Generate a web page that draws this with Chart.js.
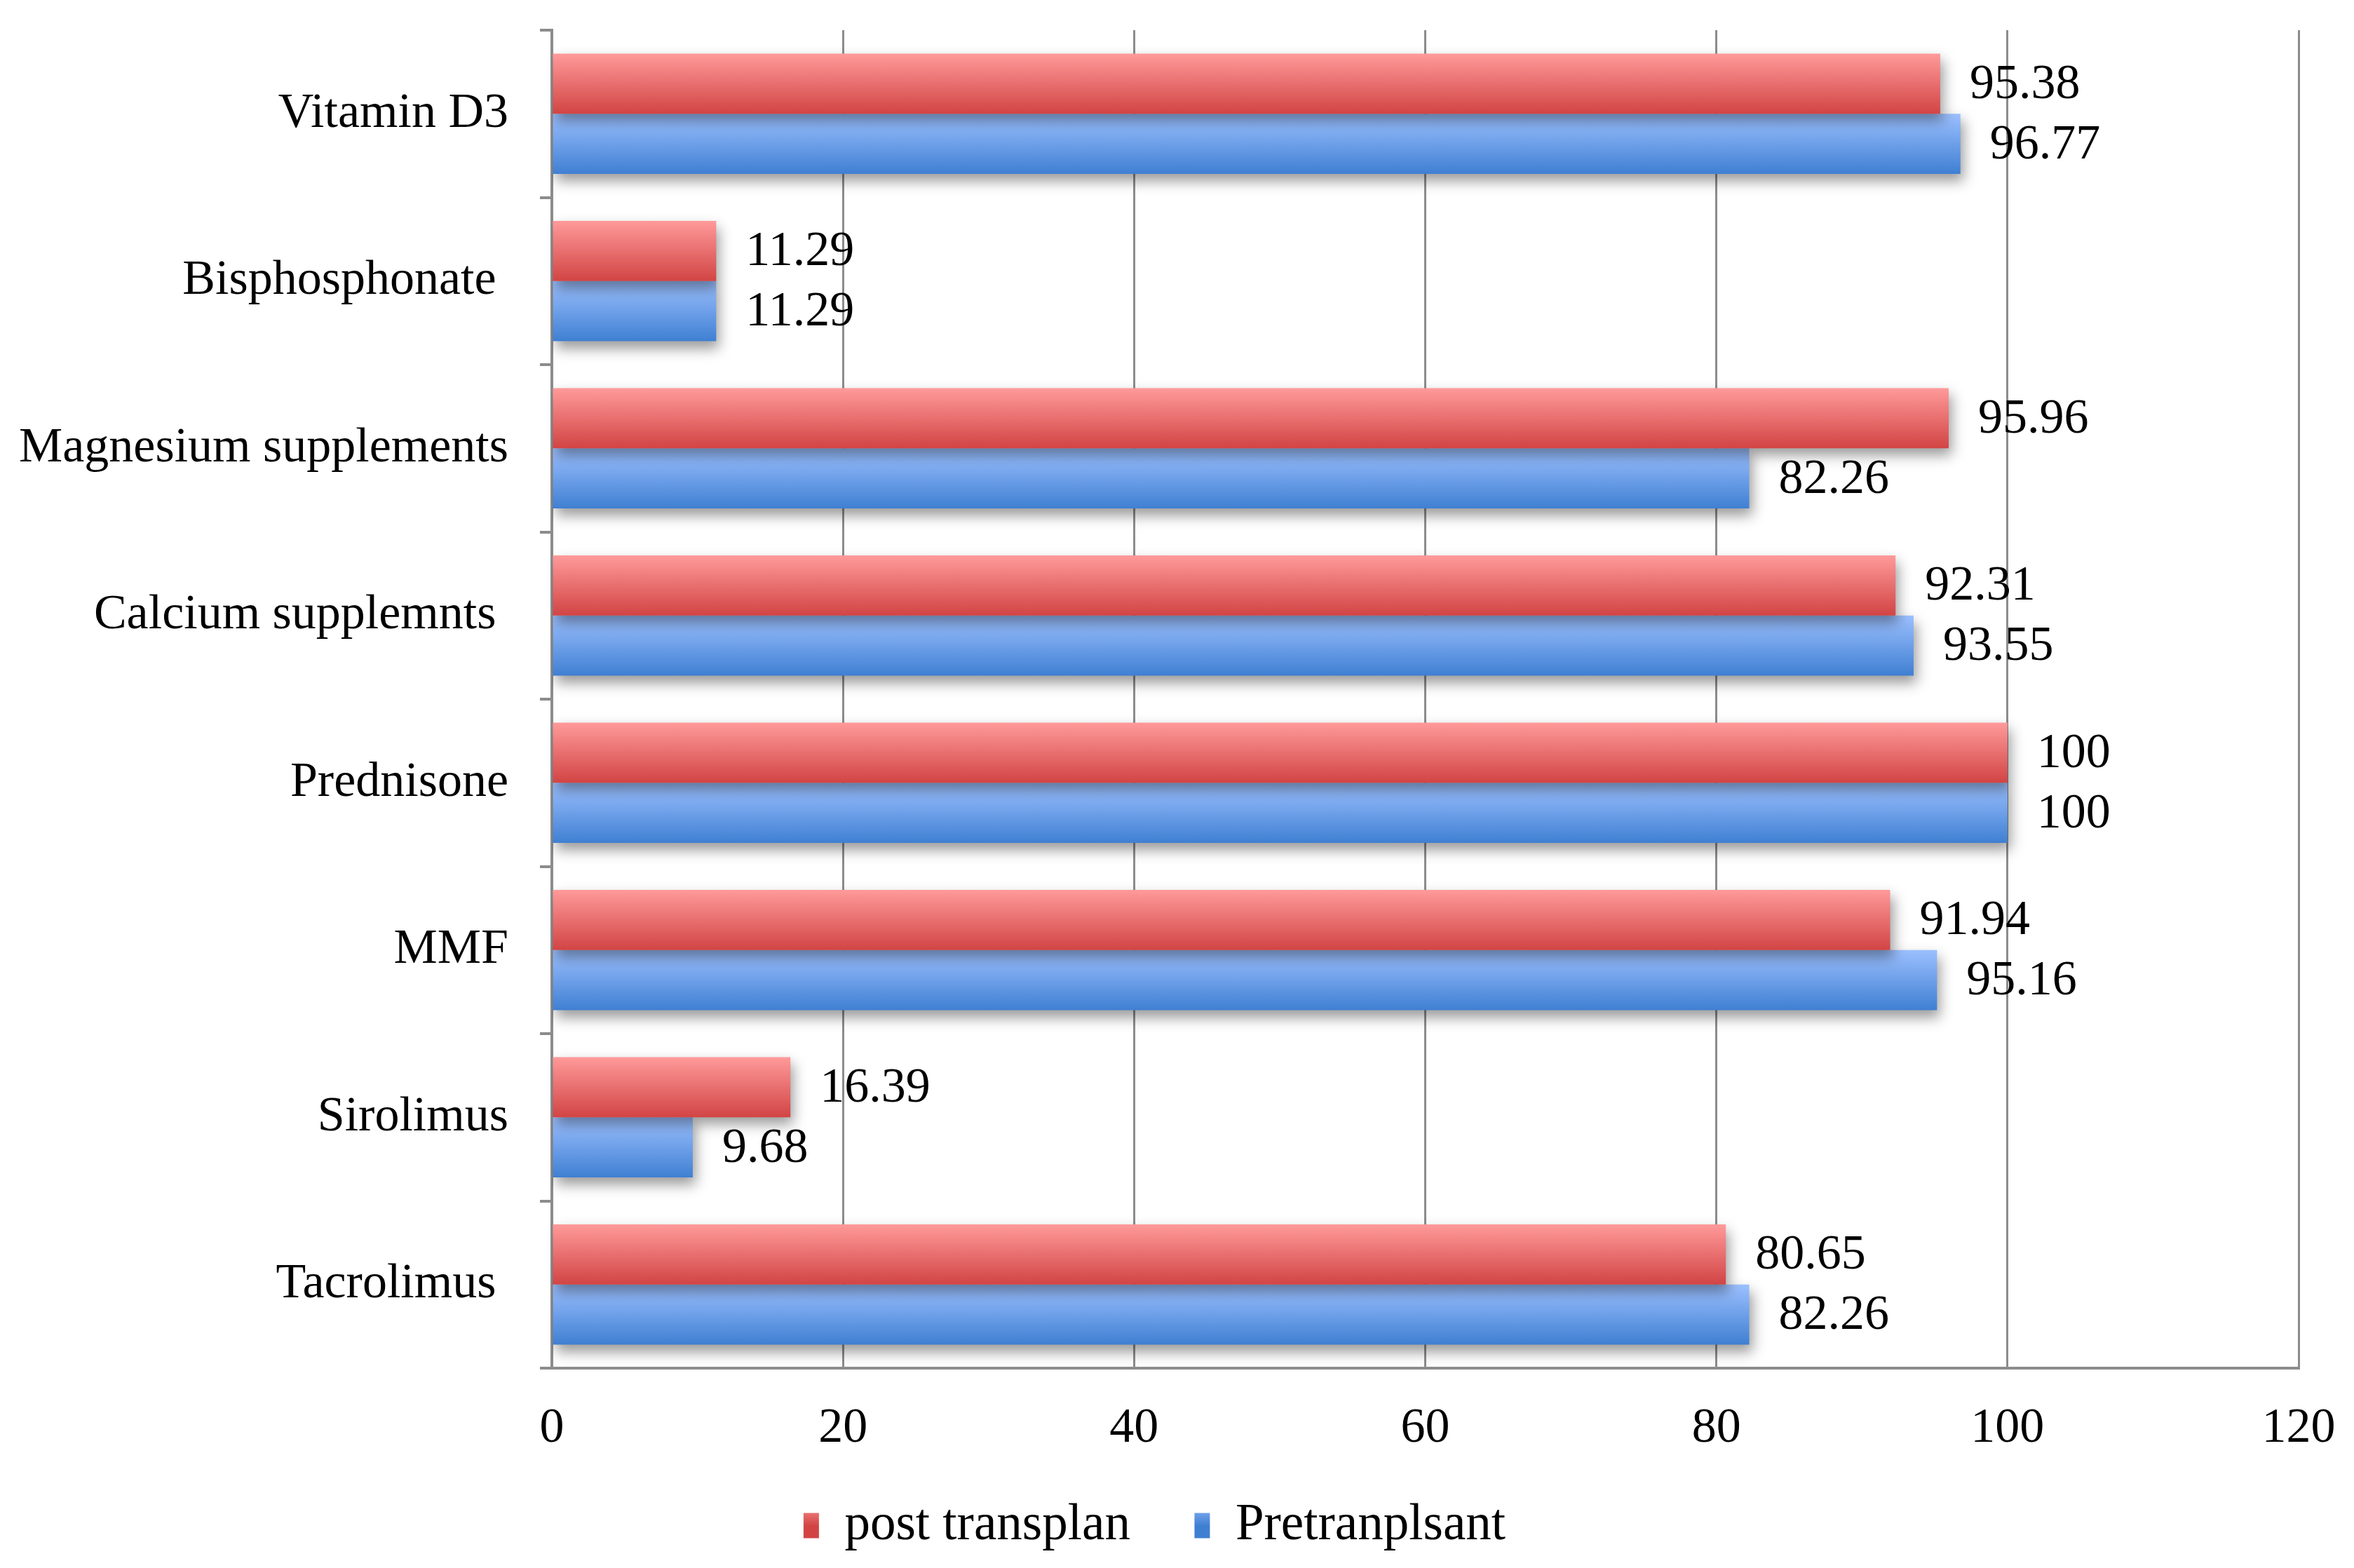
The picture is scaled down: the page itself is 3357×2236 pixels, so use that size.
<!DOCTYPE html>
<html>
<head>
<meta charset="utf-8">
<script src="https://cdn.jsdelivr.net/npm/chart.js@4"></script>
<style>
  html, body { margin: 0; padding: 0; background: #fff; }
  #wrap { width: 3357px; height: 2236px; }
</style>
</head>
<body>
<div id="wrap"><canvas id="med-chart" width="3357" height="2236"></canvas></div>
<script>
const categories = ['Vitamin D3', 'Bisphosphonate ', 'Magnesium supplements', 'Calcium supplemnts ',
    'Prednisone', 'MMF', 'Sirolimus', 'Tacrolimus '];
const postTransplant = [95.38, 11.29, 95.96, 92.31, 100, 91.94, 16.39, 80.65];
const preTransplant = [96.77, 11.29, 82.26, 93.55, 100, 95.16, 9.68, 82.26];
const xTicks = [0, 20, 40, 60, 80, 100, 120];

const FONT = '"Liberation Serif", "DejaVu Serif", serif';
const GRID = '#8c8c8c';
const CAT_PCT = 0.72;

const redStops = ['#ff9a9a', '#d24444'];
const blueStops = ['#9cc0ff', '#3f7fd2'];

// vertical gradient for each bar, top half of the band is dataset 0
function barFill(stops, slot) {
    return (c) => {
        const chart = c.chart;
        const y = chart.scales.y;
        if (!chart.chartArea || !y) return stops[1];
        const band = y.height / categories.length;
        const mid = y.getPixelForValue(c.dataIndex);
        const half = band * CAT_PCT / 2;
        const top = slot === 0 ? mid - half : mid;
        const g = chart.ctx.createLinearGradient(0, top, 0, top + half);
        g.addColorStop(0, stops[0]);
        g.addColorStop(1, stops[1]);
        return g;
    };
}

function legendFill(ctx, h, stops) {
    const g = ctx.createLinearGradient(0, h - 96, 0, h - 60);
    g.addColorStop(0, stops[0]);
    g.addColorStop(1, stops[1]);
    return g;
}

const barDecor = {
    id: 'barDecor',
    beforeDatasetsDraw(chart) {
        const ctx = chart.ctx;
        ctx.save();
        ctx.shadowColor = 'rgba(0,0,0,0.4)';
        ctx.shadowBlur = 18;
        ctx.shadowOffsetX = 4;
        ctx.shadowOffsetY = 10;
    },
    afterDatasetsDraw(chart) {
        const ctx = chart.ctx;
        ctx.restore();
        ctx.save();
        ctx.font = '70px ' + FONT;
        ctx.fillStyle = '#000';
        ctx.textAlign = 'left';
        ctx.textBaseline = 'middle';
        chart.data.datasets.forEach((ds, i) => {
            chart.getDatasetMeta(i).data.forEach((bar, j) => {
                ctx.fillText(String(ds.data[j]), bar.x + 42, bar.y + 2);
            });
        });
        ctx.restore();
    }
};

const chart = new Chart(document.getElementById('med-chart'), {
    type: 'bar',
    data: {
        labels: categories,
        datasets: [{
            label: 'post transplan',
            data: postTransplant,
            backgroundColor: barFill(redStops, 0),
            categoryPercentage: CAT_PCT,
            barPercentage: 1
        }, {
            label: 'Pretranplsant',
            data: preTransplant,
            backgroundColor: barFill(blueStops, 1),
            categoryPercentage: CAT_PCT,
            barPercentage: 1
        }]
    },
    options: {
        indexAxis: 'y',
        responsive: false,
        animation: false,
        devicePixelRatio: 1,
        layout: { padding: { top: 43, right: 79, left: 15, bottom: 14 } },
        scales: {
            x: {
                min: 0,
                max: 120,
                afterBuildTicks: (s) => { s.ticks = xTicks.map(v => ({ value: v })); },
                afterFit: (s) => { s.height = 133; s.paddingLeft = 0; s.paddingRight = 0; },
                grid: { color: GRID, lineWidth: 3, drawTicks: false },
                border: { display: true, color: GRID, width: 4 },
                ticks: { padding: 45, color: '#000', font: { family: FONT, size: 70 } }
            },
            y: {
                afterFit: (s) => { s.width = 772; s.paddingTop = 0; s.paddingBottom = 0; },
                grid: { drawOnChartArea: false, drawTicks: true, tickLength: 17, color: GRID, lineWidth: 4, offset: true },
                border: { display: true, color: GRID, width: 4 },
                ticks: { padding: 45, color: '#000', font: { family: FONT, size: 70 } }
            }
        },
        plugins: {
            legend: {
                position: 'bottom',
                labels: {
                    padding: 55,
                    boxWidth: 22,
                    boxHeight: 36,
                    color: '#000',
                    font: { family: FONT, size: 73 },
                    generateLabels: (ch) => {
                        const items = Chart.defaults.plugins.legend.labels.generateLabels(ch);
                        const stops = [redStops, blueStops];
                        items.forEach((it, i) => {
                            it.fillStyle = legendFill(ch.ctx, ch.height, stops[i]);
                            it.lineWidth = 0;
                            it.strokeStyle = 'rgba(0,0,0,0)';
                            if (i === 0) it.text += '  ';
                        });
                        return items;
                    }
                }
            },
            tooltip: { enabled: false }
        }
    },
    plugins: [barDecor]
});
</script>
</body>
</html>
